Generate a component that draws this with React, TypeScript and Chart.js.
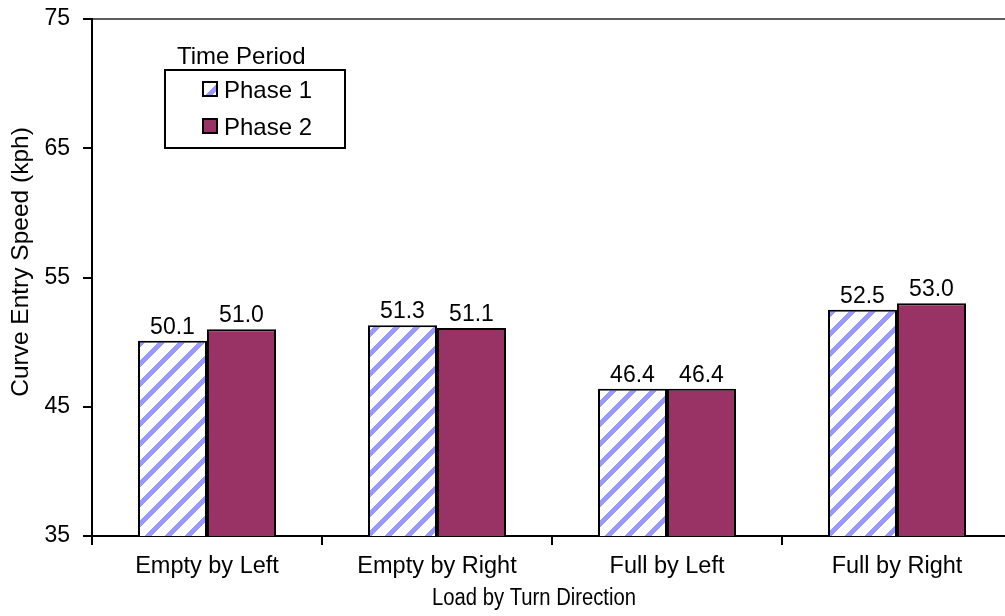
import React, { useEffect, useRef } from "react";
import { Chart, registerables } from "chart.js";

Chart.register(...registerables);

const categories = ["Empty by Left", "Empty by Right", "Full by Left", "Full by Right"];
const seriesNames = ["Phase 1", "Phase 2"];
const phase1 = [50.1, 51.3, 46.4, 52.5];
const phase2 = [51.0, 51.1, 46.4, 53.0];
const yTicks = [35, 45, 55, 65, 75];
const xTitle = "Load by Turn Direction";
const yTitle = "Curve Entry Speed (kph)";
const legendTitle = "Time Period";

const FONT = "'Liberation Sans', Arial, sans-serif";
const STRIPE = "#9999FF";
const PHASE2 = "#993366";

function makePattern(): CanvasPattern | string {
  const p = 20;
  const t = 7;
  const c = document.createElement("canvas");
  c.width = p;
  c.height = p;
  const g = c.getContext("2d");
  if (!g) return STRIPE;
  const img = g.createImageData(p, p);
  for (let y = 0; y < p; y++) {
    for (let x = 0; x < p; x++) {
      const i = (y * p + x) * 4;
      const on = (x + y) % p < t;
      img.data[i] = on ? 0x99 : 255;
      img.data[i + 1] = on ? 0x99 : 255;
      img.data[i + 2] = 255;
      img.data[i + 3] = 255;
    }
  }
  g.putImageData(img, 0, 0);
  const pat = g.createPattern(c, "repeat");
  return pat || STRIPE;
}

export default function App() {
  const ref = useRef<HTMLCanvasElement | null>(null);

  useEffect(() => {
    const canvas = ref.current;
    if (!canvas) return;
    const pattern = makePattern();

    const labelsPlugin = {
      id: "valueLabels",
      afterDatasetsDraw(chart: any) {
        const ctx = chart.ctx;
        ctx.save();
        ctx.font = `23px ${FONT}`;
        ctx.fillStyle = "#000";
        ctx.textAlign = "center";
        ctx.textBaseline = "alphabetic";
        chart.data.datasets.forEach((ds: any, di: number) => {
          const meta = chart.getDatasetMeta(di);
          meta.data.forEach((el: any, i: number) => {
            ctx.fillText(Number(ds.data[i]).toFixed(1), el.x, el.y - 7);
          });
        });
        ctx.restore();
      },
    };

    const decorPlugin = {
      id: "decor",
      afterDraw(chart: any) {
        const ctx = chart.ctx;
        ctx.save();
        ctx.fillStyle = "#000";
        // axis titles
        ctx.textAlign = "center";
        ctx.textBaseline = "middle";
        ctx.font = `23px ${FONT}`;
        ctx.fillText(xTitle, 534, 599, 204);
        ctx.save();
        ctx.font = `24.5px ${FONT}`;
        ctx.translate(21, 262);
        ctx.rotate(-Math.PI / 2);
        ctx.fillText(yTitle, 0, 0);
        ctx.restore();

        // legend
        ctx.font = `24px ${FONT}`;
        ctx.textAlign = "left";
        ctx.fillText(legendTitle, 177, 57);
        ctx.lineWidth = 2;
        ctx.strokeStyle = "#000";
        ctx.fillStyle = "#fff";
        ctx.fillRect(165, 70, 180, 78);
        ctx.strokeRect(165, 70, 180, 78);
        const rows = [89, 126];
        const fills = [pattern, PHASE2];
        rows.forEach((cy, i) => {
          ctx.fillStyle = fills[i] as any;
          ctx.fillRect(203, cy - 7, 14, 14);
          ctx.lineWidth = 2;
          ctx.strokeStyle = "#000";
          ctx.strokeRect(203, cy - 7, 14, 14);
          ctx.fillStyle = "#000";
          ctx.fillText(seriesNames[i], 224, cy + 2);
        });
        ctx.restore();
      },
    };

    const chart = new Chart(canvas, {
      type: "bar",
      data: {
        labels: categories,
        datasets: [
          {
            label: seriesNames[0],
            data: phase1,
            backgroundColor: pattern as any,
            borderColor: "#000",
            borderWidth: 2,
            categoryPercentage: 0.6,
            barPercentage: 1.0,
          },
          {
            label: seriesNames[1],
            data: phase2,
            backgroundColor: PHASE2,
            borderColor: "#000",
            borderWidth: 2,
            categoryPercentage: 0.6,
            barPercentage: 1.0,
          },
        ],
      },
      options: {
        responsive: false,
        maintainAspectRatio: false,
        animation: false,
        layout: { padding: { left: 0, top: 19, right: 3, bottom: 0 } },
        plugins: {
          legend: { display: false },
          tooltip: { enabled: false },
          title: { display: false },
        },
        scales: {
          x: {
            offset: true,
            grid: {
              offset: true,
              drawOnChartArea: false,
              drawTicks: true,
              tickLength: 9,
              tickColor: "#000",
              tickWidth: 2,
              lineWidth: 2,
              color: "#000",
            },
            border: { display: true, color: "#000", width: 2 },
            ticks: {
              color: "#000",
              font: { family: FONT, size: 23.5 },
              padding: 7,
              maxRotation: 0,
              autoSkip: false,
            },
            afterFit(scale: any) {
              scale.height = 80;
              scale.paddingLeft = 0;
              scale.paddingRight = 0;
            },
          },
          y: {
            min: 35,
            max: 75,
            afterBuildTicks(scale: any) {
              scale.ticks = yTicks.map((v) => ({ value: v }));
            },
            grid: {
              drawOnChartArea: true,
              drawTicks: true,
              tickLength: 9,
              tickColor: "#000",
              tickWidth: 2,
              lineWidth: 2,
              color: (c: any) => (c.tick && c.tick.value === 75 ? "#5c5c5c" : "rgba(0,0,0,0)"),
            },
            border: { display: true, color: "#000", width: 2 },
            ticks: {
              color: "#000",
              font: { family: FONT, size: 23 },
              padding: 13,
            },
            afterFit(scale: any) {
              scale.width = 92;
              scale.paddingTop = 0;
              scale.paddingBottom = 0;
            },
          },
        },
      },
      plugins: [labelsPlugin, decorPlugin],
    } as any);

    return () => chart.destroy();
  }, []);

  return (
    <div
      style={{
        position: "absolute",
        left: 0,
        top: 0,
        width: 1005,
        height: 616,
        overflow: "hidden",
        background: "#fff",
      }}
    >
      <canvas ref={ref} width={1015} height={616} style={{ display: "block" }} />
    </div>
  );
}
